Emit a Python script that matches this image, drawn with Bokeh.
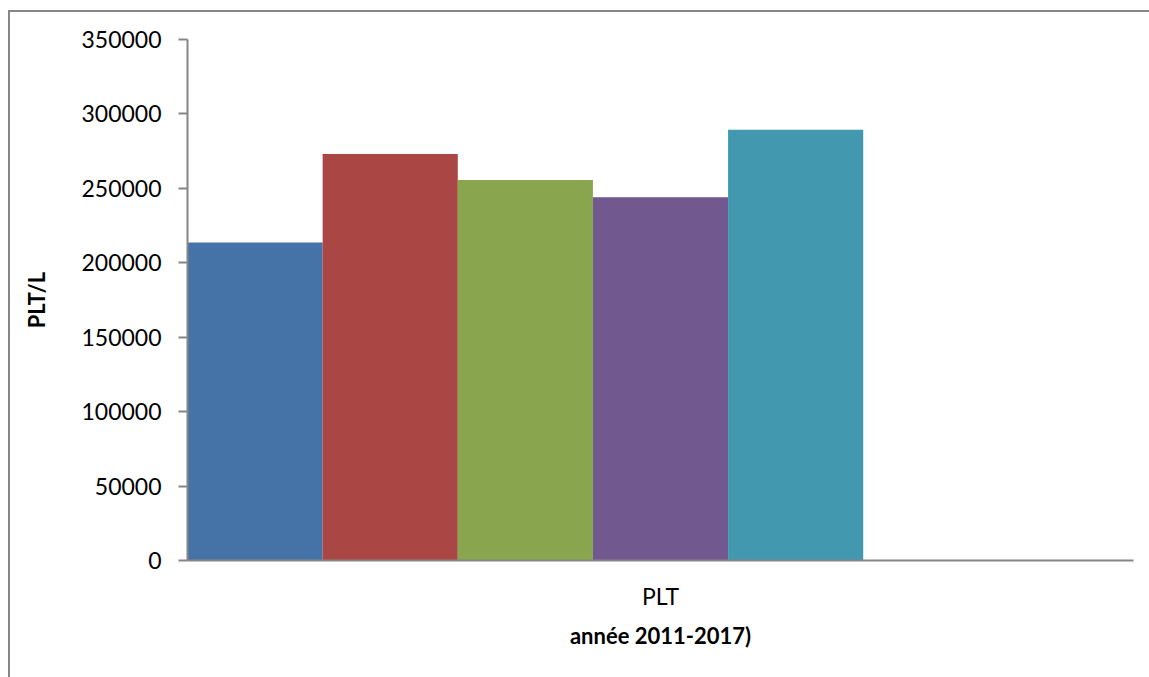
from bokeh.plotting import figure
from bokeh.models import ColumnDataSource, Range1d, FixedTicker
from bokeh.embed import file_html
from bokeh.resources import INLINE

# Platelet counts (PLT/L), one bar per year of the 2011-2017 period
years = ["2011", "2012", "2013", "2014", "2015", "2016", "2017"]
plt_values = [213600, 273100, 255600, 244100, 289300]
colors = ["#4572A7", "#AA4643", "#89A54E", "#71588F", "#4198AF"]
category = "PLT"
y_ticks = [0, 50000, 100000, 150000, 200000, 250000, 300000, 350000]

n = len(plt_values)
src = ColumnDataSource(dict(
    x=[i + 0.5 for i in range(n)],
    top=plt_values,
    year=years[:n],
    color=colors[:n],
))

FONT = "Lato"
GRAY = "#868686"

p = figure(width=1139, height=665, output_backend="svg", toolbar_location=None,
           x_range=Range1d(0, len(years)), y_range=Range1d(0, 350000),
           min_border_left=177, min_border_right=18,
           min_border_top=27, min_border_bottom=119)

# chart-area border: only the top and left edges fall inside the page
p.styles = {"margin-left": "8px", "margin-top": "10px",
            "margin-right": "-40px", "margin-bottom": "-40px",
            "box-sizing": "content-box", "overflow": "hidden",
            "border-style": "solid", "border-color": GRAY,
            "border-width": "2px 0px 0px 2px"}

p.vbar(x="x", top="top", width=1.0, bottom=0, color="color", line_width=0, source=src)

p.xgrid.visible = False
p.ygrid.visible = False
p.outline_line_color = None
p.background_fill_color = "white"
p.border_fill_color = "white"

# y axis
ya = p.yaxis[0]
ya.ticker = FixedTicker(ticks=y_ticks)
ya.major_label_overrides = {t: str(t) for t in y_ticks}
ya.axis_line_color = GRAY
ya.axis_line_width = 2
ya.major_tick_line_color = GRAY
ya.major_tick_line_width = 2
ya.major_tick_out = 9
ya.major_tick_in = 0
ya.minor_tick_line_color = None
ya.major_label_text_font = FONT
ya.major_label_text_font_size = "23px"
ya.major_label_text_color = "black"
ya.major_label_standoff = 17
ya.axis_label = "PLT/L"
ya.axis_label_text_font = FONT
ya.axis_label_text_font_style = "bold"
ya.axis_label_text_font_size = "22px"
ya.axis_label_text_color = "black"
ya.axis_label_standoff = 28

# x axis: a single category centred under the group of bars
xa = p.xaxis[0]
xa.ticker = FixedTicker(ticks=[len(years) / 2])
xa.major_label_overrides = {len(years) / 2: category}
xa.axis_line_color = GRAY
xa.axis_line_width = 2
xa.major_tick_line_color = None
xa.major_tick_out = 0
xa.major_tick_in = 0
xa.minor_tick_line_color = None
xa.major_label_text_font = FONT
xa.major_label_text_font_size = "23px"
xa.major_label_text_color = "black"
xa.major_label_standoff = 21
xa.axis_label = "année 2011-2017)"
xa.axis_label_text_font = FONT
xa.axis_label_text_font_style = "bold"
xa.axis_label_text_font_size = "22px"
xa.axis_label_text_color = "black"
xa.axis_label_standoff = 9

open("out.html", "w").write(file_html(p, INLINE))
